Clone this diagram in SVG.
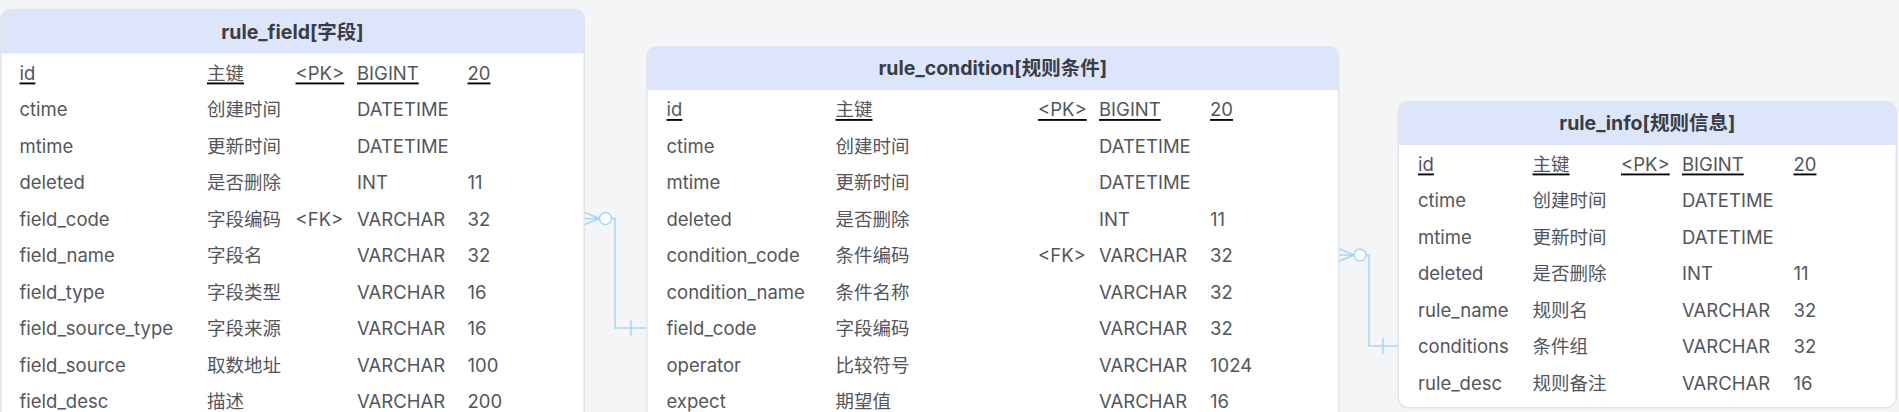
<svg xmlns="http://www.w3.org/2000/svg" width="1899" height="412" viewBox="0 0 1899 412">
<style>
.bg{fill:#f4f5f7}
.body{fill:#ffffff}
.hdr{fill:#dde5fb}
.frame{fill:none;stroke:#e1e4ea;stroke-width:1.5}
text{font-family:"Inter","Noto Sans CJK SC",sans-serif;font-size:18.5px;fill:#53565c;dominant-baseline:central}
.title{font-weight:700;fill:#3a3d44;text-anchor:middle;font-size:19.5px}
.pk{text-decoration:underline}
.conn{fill:none;stroke:#a6d6f7;stroke-width:1.5}
.circ{fill:#ffffff;stroke:#a6d6f7;stroke-width:1.5}
</style>
<rect class="bg" x="0" y="0" width="1899" height="412"/>

<g id="rule_field">
<rect class="body" x="0.75" y="9.75" width="583.5" height="440" rx="10"/>
<path class="hdr" d="M0.75,53.5 V19.75 A10,10 0 0 1 10.75,9.75 H574.25 A10,10 0 0 1 584.25,19.75 V53.5 Z"/>
<rect class="frame" x="0.75" y="9.75" width="583.5" height="440" rx="10"/>
<text class="title" x="292.5" y="31.5">rule_field[字段]</text>
<g class="pk"><text x="19.5" y="72.5">id</text><text x="207" y="72.5">主键</text><text x="295.5" y="72.5">&lt;PK&gt;</text><text x="357" y="72.5">BIGINT</text><text x="467.5" y="72.5">20</text></g>
<text x="19.5" y="109">ctime</text><text x="207" y="109">创建时间</text><text x="357" y="109">DATETIME</text>
<text x="19.5" y="145.5">mtime</text><text x="207" y="145.5">更新时间</text><text x="357" y="145.5">DATETIME</text>
<text x="19.5" y="182">deleted</text><text x="207" y="182">是否删除</text><text x="357" y="182">INT</text><text x="467.5" y="182">11</text>
<text x="19.5" y="218.5">field_code</text><text x="207" y="218.5">字段编码</text><text x="295.5" y="218.5">&lt;FK&gt;</text><text x="357" y="218.5">VARCHAR</text><text x="467.5" y="218.5">32</text>
<text x="19.5" y="255">field_name</text><text x="207" y="255">字段名</text><text x="357" y="255">VARCHAR</text><text x="467.5" y="255">32</text>
<text x="19.5" y="291.5">field_type</text><text x="207" y="291.5">字段类型</text><text x="357" y="291.5">VARCHAR</text><text x="467.5" y="291.5">16</text>
<text x="19.5" y="328">field_source_type</text><text x="207" y="328">字段来源</text><text x="357" y="328">VARCHAR</text><text x="467.5" y="328">16</text>
<text x="19.5" y="364.5">field_source</text><text x="207" y="364.5">取数地址</text><text x="357" y="364.5">VARCHAR</text><text x="467.5" y="364.5">100</text>
<text x="19.5" y="401">field_desc</text><text x="207" y="401">描述</text><text x="357" y="401">VARCHAR</text><text x="467.5" y="401">200</text>
</g>

<g id="rule_condition">
<rect class="body" x="646.75" y="46.75" width="692" height="420" rx="10"/>
<path class="hdr" d="M646.75,90 V56.75 A10,10 0 0 1 656.75,46.75 H1328.75 A10,10 0 0 1 1338.75,56.75 V90 Z"/>
<rect class="frame" x="646.75" y="46.75" width="692" height="420" rx="10"/>
<text class="title" x="992.75" y="68">rule_condition[规则条件]</text>
<g class="pk"><text x="666.5" y="109">id</text><text x="835.5" y="109">主键</text><text x="1038" y="109">&lt;PK&gt;</text><text x="1099" y="109">BIGINT</text><text x="1210" y="109">20</text></g>
<text x="666.5" y="145.5">ctime</text><text x="835.5" y="145.5">创建时间</text><text x="1099" y="145.5">DATETIME</text>
<text x="666.5" y="182">mtime</text><text x="835.5" y="182">更新时间</text><text x="1099" y="182">DATETIME</text>
<text x="666.5" y="218.5">deleted</text><text x="835.5" y="218.5">是否删除</text><text x="1099" y="218.5">INT</text><text x="1210" y="218.5">11</text>
<text x="666.5" y="255">condition_code</text><text x="835.5" y="255">条件编码</text><text x="1038" y="255">&lt;FK&gt;</text><text x="1099" y="255">VARCHAR</text><text x="1210" y="255">32</text>
<text x="666.5" y="291.5">condition_name</text><text x="835.5" y="291.5">条件名称</text><text x="1099" y="291.5">VARCHAR</text><text x="1210" y="291.5">32</text>
<text x="666.5" y="328">field_code</text><text x="835.5" y="328">字段编码</text><text x="1099" y="328">VARCHAR</text><text x="1210" y="328">32</text>
<text x="666.5" y="364.5">operator</text><text x="835.5" y="364.5">比较符号</text><text x="1099" y="364.5">VARCHAR</text><text x="1210" y="364.5">1024</text>
<text x="666.5" y="401">expect</text><text x="835.5" y="401">期望值</text><text x="1099" y="401">VARCHAR</text><text x="1210" y="401">16</text>
</g>

<g id="rule_info">
<rect class="body" x="1398.25" y="101.75" width="498" height="306" rx="10"/>
<path class="hdr" d="M1398.25,145 V111.75 A10,10 0 0 1 1408.25,101.75 H1886.25 A10,10 0 0 1 1896.25,111.75 V145 Z"/>
<rect class="frame" x="1398.25" y="101.75" width="498" height="306" rx="10"/>
<text class="title" x="1647.25" y="123">rule_info[规则信息]</text>
<g class="pk"><text x="1418" y="163.5">id</text><text x="1532.5" y="163.5">主键</text><text x="1621" y="163.5">&lt;PK&gt;</text><text x="1682" y="163.5">BIGINT</text><text x="1793.5" y="163.5">20</text></g>
<text x="1418" y="200">ctime</text><text x="1532.5" y="200">创建时间</text><text x="1682" y="200">DATETIME</text>
<text x="1418" y="236.5">mtime</text><text x="1532.5" y="236.5">更新时间</text><text x="1682" y="236.5">DATETIME</text>
<text x="1418" y="273">deleted</text><text x="1532.5" y="273">是否删除</text><text x="1682" y="273">INT</text><text x="1793.5" y="273">11</text>
<text x="1418" y="309.5">rule_name</text><text x="1532.5" y="309.5">规则名</text><text x="1682" y="309.5">VARCHAR</text><text x="1793.5" y="309.5">32</text>
<text x="1418" y="346">conditions</text><text x="1532.5" y="346">条件组</text><text x="1682" y="346">VARCHAR</text><text x="1793.5" y="346">32</text>
<text x="1418" y="382.5">rule_desc</text><text x="1532.5" y="382.5">规则备注</text><text x="1682" y="382.5">VARCHAR</text><text x="1793.5" y="382.5">16</text>
</g>

<g id="connectors">
<g id="field_to_condition">
<path class="conn" d="M585,212.5 L599.5,218.5 M585,218.5 H599.5 M585,224.5 L599.5,218.5"/>
<path class="conn" d="M611.5,218.5 H615 V328 H646"/>
<circle class="circ" cx="605.5" cy="218.5" r="6"/>
<path class="conn" d="M631,320 V336"/>
</g>
<g id="condition_to_info">
<path class="conn" d="M1339.5,249 L1354,255 M1339.5,255 H1354 M1339.5,261 L1354,255"/>
<path class="conn" d="M1366,255 H1369 V346 H1398"/>
<circle class="circ" cx="1360" cy="255" r="6"/>
<path class="conn" d="M1383,338 V354"/>
</g>
</g>
</svg>
